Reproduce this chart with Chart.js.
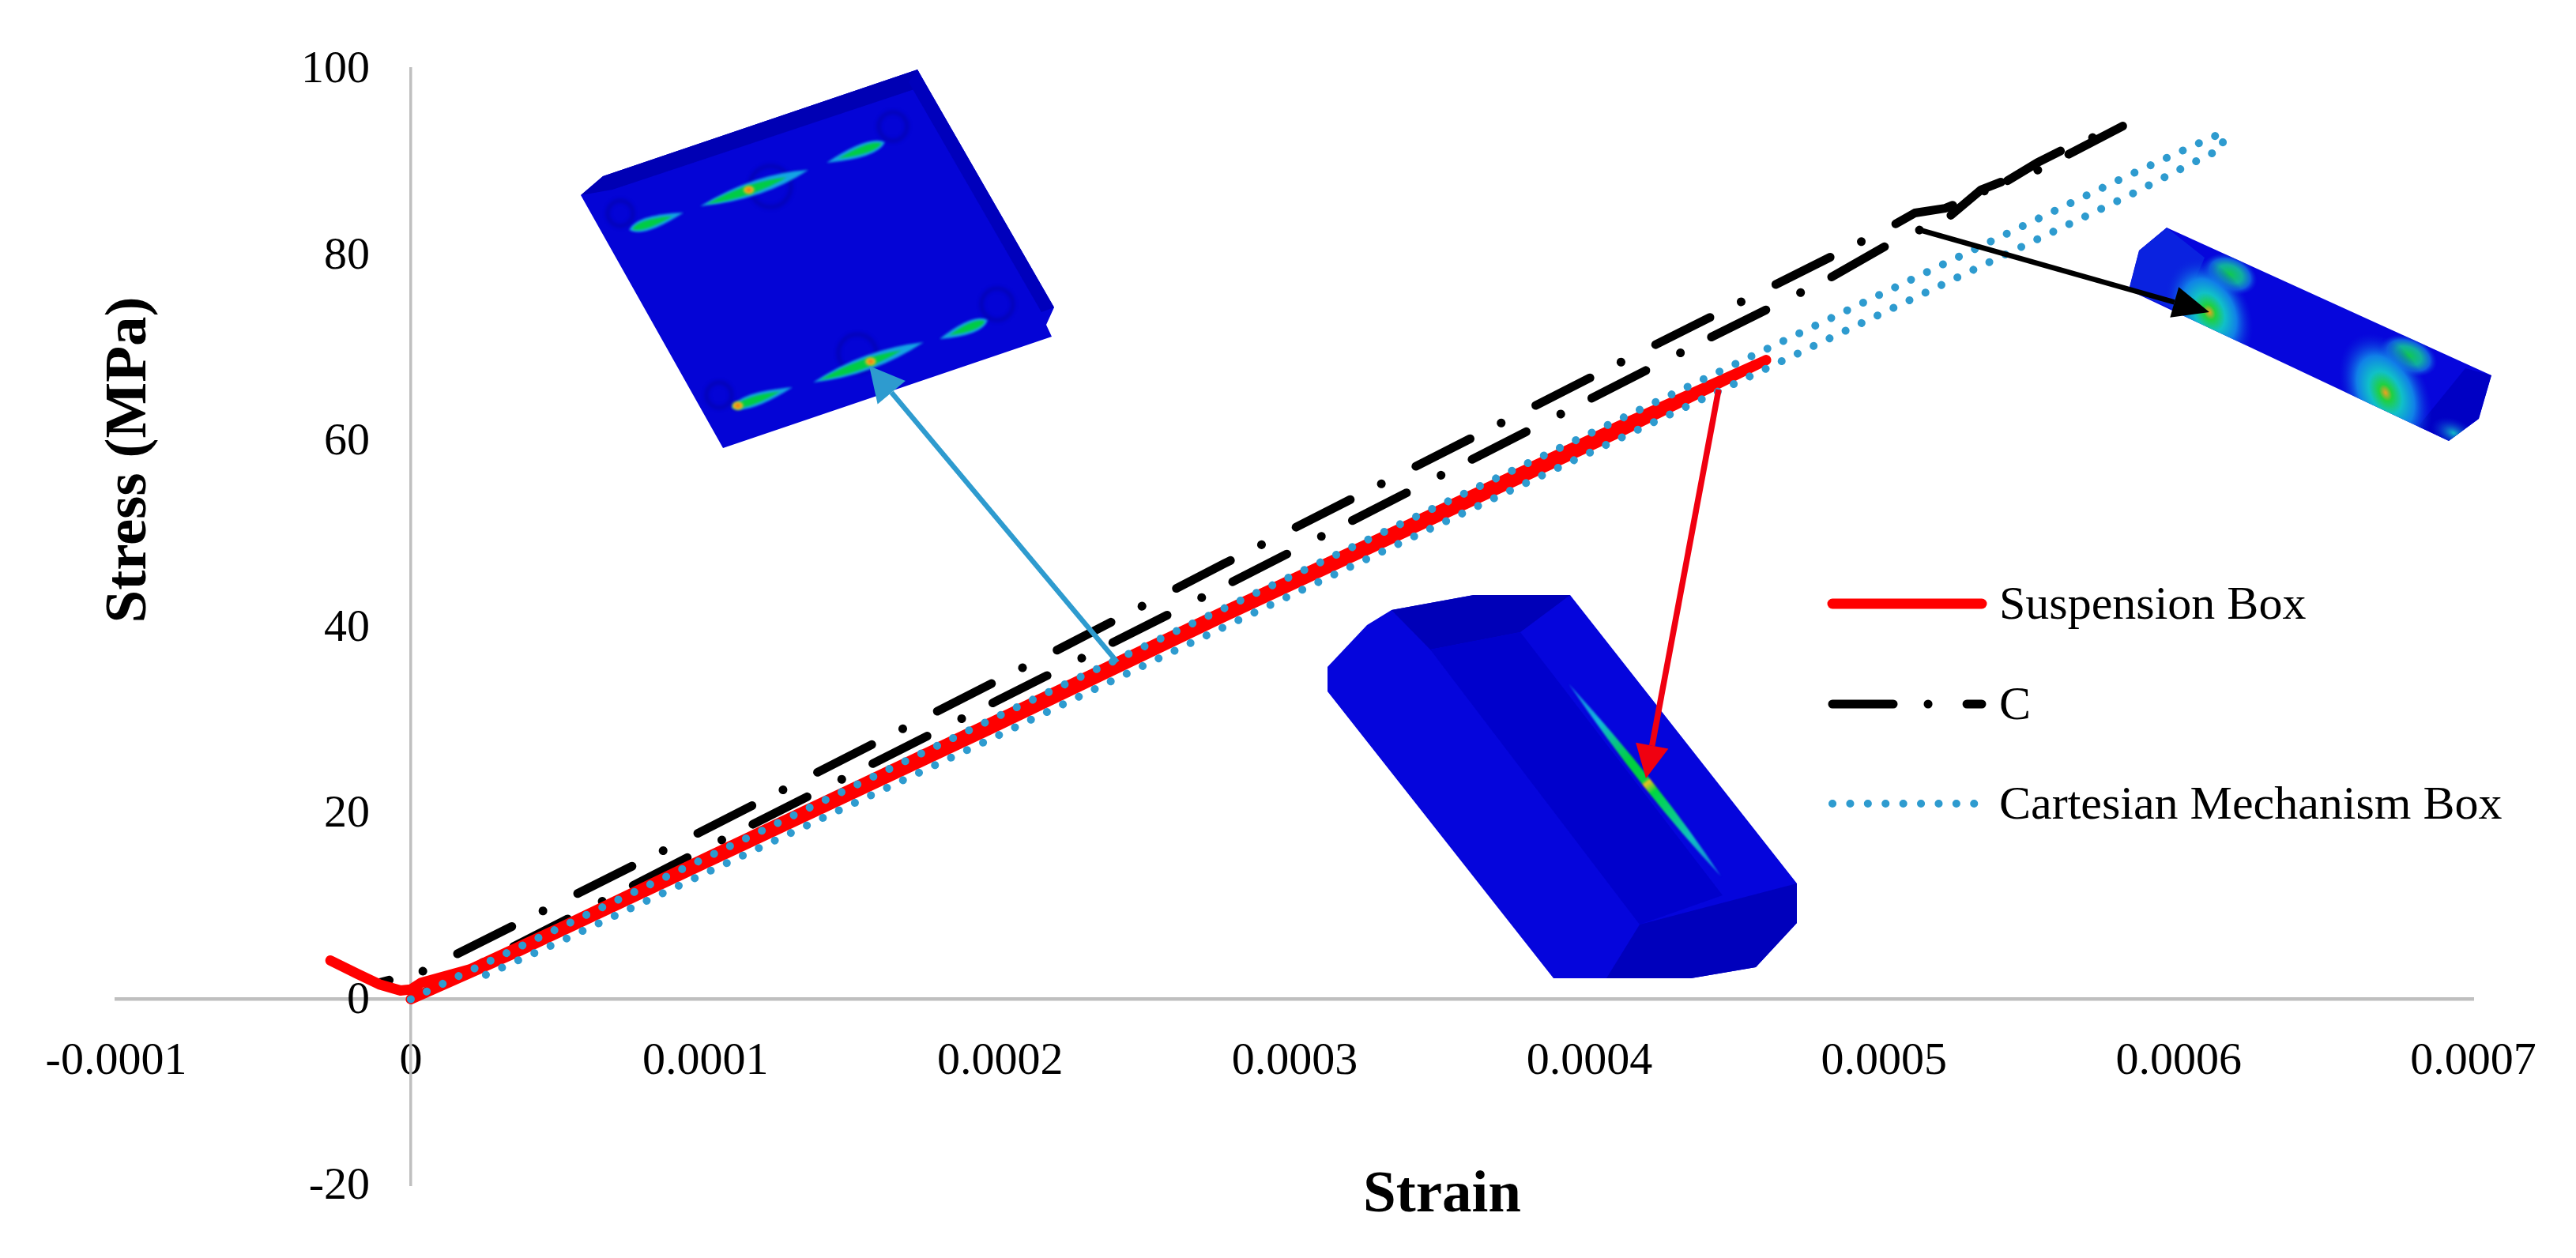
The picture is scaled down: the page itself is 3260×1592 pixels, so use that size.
<!DOCTYPE html>
<html>
<head>
<meta charset="utf-8">
<title>Stress vs Strain</title>
<script src="https://cdn.jsdelivr.net/npm/chart.js@4"></script>
<style>
  html, body { margin: 0; padding: 0; background: #fff; }
  canvas { display: block; }
</style>
</head>
<body>
<canvas id="stressChart" width="3260" height="1592"></canvas>
<script>
const xTickLabels = ['-0.0001', '0', '0.0001', '0.0002', '0.0003', '0.0004', '0.0005', '0.0006', '0.0007'];
const yTickLabels = ['-20', '0', '20', '40', '60', '80', '100'];

const suspensionStrain = [0, 3.57e-5, 10e-5, 19.6e-5, 27.6e-5, 41e-5, 46e-5, 41e-5, 27.6e-5, 19.6e-5, 10e-5, 5e-5, 2e-5, 0.35e-5, 0, -0.35e-5, -1.07e-5, -1.8e-5, -2.73e-5];
const suspensionStress = [0, 5.0, 14.6, 28.9, 41.1, 60.9, 68.7, 61.6, 41.7, 29.6, 15.2, 7.6, 3.2, 1.76, 1.05, 0.93, 1.6, 2.7, 4.16];

const cStrain = [-1.07e-5, -0.48e-5, 0.5e-5, 1.53e-5, 9.66e-5, 21.8e-5, 27.6e-5, 41.9e-5, 46e-5, 50.1e-5, 51.05e-5, 52.07e-5, 53.1e-5, 54.2e-5, 54.05e-5, 55.2e-5, 56.2e-5, 58.2e-5, 56.2e-5, 55.15e-5, 54.2e-5, 53.3e-5, 52.25e-5, 50.2e-5, 48.15e-5, 46.2e-5, 44.1e-5, 26e-5, 19.85e-5, 9.8e-5, 7.78e-5, 0];
const cStress = [1.78, 2.25, 3.1, 4.8, 17.7, 37.3, 46.8, 69.8, 76.3, 82.8, 84.5, 85.0, 86.3, 88.3, 87.7, 89.9, 91.5, 94.0, 90.7, 89.0, 88.1, 87.0, 84.2, 81.2, 77.5, 74.4, 71.1, 41.8, 32.0, 15.9, 12.6, 0];

const cartesianStrain = [0, 1.6e-5, 10.34e-5, 20.12e-5, 27.2e-5, 45.7e-5, 58.2e-5, 61.1e-5, 61.5e-5, 61.5e-5, 60.3e-5, 58.2e-5, 45.95e-5, 27.4e-5, 19.77e-5, 5e-5, 2.25e-5];
const cartesianStress = [0, 2.46, 15.7, 30.7, 41.4, 69.4, 88.4, 92.6, 93.1, 91.5, 89.6, 86.2, 67.7, 39.7, 28.1, 6.1, 2.2];

const serif = '"Liberation Serif", "Times New Roman", serif';

function toPoints(strain, stress) {
    return strain.map((x, i) => ({ x: x, y: stress[i] }));
}

function tracePoly(ctx, pts) {
    ctx.beginPath();
    pts.forEach((p, i) => i ? ctx.lineTo(p[0], p[1]) : ctx.moveTo(p[0], p[1]));
    ctx.closePath();
}

function poly(ctx, pts, fill) {
    tracePoly(ctx, pts);
    ctx.fillStyle = fill;
    ctx.fill();
}

// lens shaped contour streak on the box insets, fattest at peak (0..1 along it)
function streak(ctx, a, b, halfWidth, peak, fill) {
    const dx = b[0] - a[0], dy = b[1] - a[1];
    const len = Math.hypot(dx, dy);
    const nx = -dy / len * halfWidth * 2, ny = dx / len * halfWidth * 2;
    const mx = a[0] + dx * peak, my = a[1] + dy * peak;
    ctx.beginPath();
    ctx.moveTo(a[0], a[1]);
    ctx.quadraticCurveTo(mx + nx, my + ny, b[0], b[1]);
    ctx.quadraticCurveTo(mx - nx, my - ny, a[0], a[1]);
    ctx.fillStyle = fill;
    ctx.fill();
}

// one slot: blue-cyan rim, green core, optional hot point
function slot(ctx, a, b, halfWidth, peak, hot) {
    const at = t => [a[0] + (b[0] - a[0]) * t, a[1] + (b[1] - a[1]) * t];
    streak(ctx, a, b, halfWidth, peak, '#14A4E4');
    streak(ctx, at(0.06), at(0.8), halfWidth * 0.6, peak, '#00CC44');
    if (hot) {
        const c = at(hot);
        hotSpot(ctx, c[0], c[1], 9, 7, 0, [[0, '#F06A10'], [0.6, '#E8C020'], [1, 'rgba(0,204,68,0)']]);
    }
}

function hotSpot(ctx, x, y, rx, ry, angle, stops) {
    ctx.save();
    ctx.translate(x, y);
    ctx.rotate(angle);
    ctx.scale(rx, ry);
    const grad = ctx.createRadialGradient(0, 0, 0, 0, 0, 1);
    stops.forEach(s => grad.addColorStop(s[0], s[1]));
    ctx.fillStyle = grad;
    ctx.beginPath();
    ctx.arc(0, 0, 1, 0, Math.PI * 2);
    ctx.fill();
    ctx.restore();
}

function boltRing(ctx, x, y, r) {
    ctx.strokeStyle = 'rgba(0,0,120,0.3)';
    ctx.lineWidth = 5;
    ctx.beginPath();
    ctx.arc(x, y, r, 0, Math.PI * 2);
    ctx.stroke();
}

function arrow(ctx, from, tip, color, width, headLen, headWidth) {
    const ang = Math.atan2(tip[1] - from[1], tip[0] - from[0]);
    const cos = Math.cos(ang), sin = Math.sin(ang);
    const bx = tip[0] - cos * headLen, by = tip[1] - sin * headLen;
    ctx.strokeStyle = color;
    ctx.lineWidth = width;
    ctx.lineCap = 'butt';
    ctx.setLineDash([]);
    ctx.beginPath();
    ctx.moveTo(from[0], from[1]);
    ctx.lineTo(bx, by);
    ctx.stroke();
    poly(ctx, [tip, [bx - sin * headWidth / 2, by + cos * headWidth / 2], [bx + sin * headWidth / 2, by - cos * headWidth / 2]], color);
}

const spotStops = [[0, '#F0A020'], [0.14, '#20D040'], [0.36, '#10C0C8'], [0.62, '#1080E8'], [1, 'rgba(10,40,220,0)']];
const greenStops = [[0, '#10C850'], [0.45, '#10B0A0'], [0.75, '#1060E0'], [1, 'rgba(10,40,220,0)']];

const insetsPlugin = {
    id: 'insets',
    afterDatasetsDraw(chart) {
        const ctx = chart.ctx;
        ctx.save();

        // plate inset, upper left
        poly(ctx, [[735, 247], [763, 223], [1161, 88], [1334, 389], [1324, 411], [1331, 426], [915, 567]], '#0404D6');
        poly(ctx, [[763, 223], [1161, 88], [1172, 108], [775, 240], [735, 247]], '#0000B4');
        poly(ctx, [[1161, 88], [1334, 389], [1318, 395], [1150, 104]], '#0000BC');
        ctx.filter = 'blur(2px)';
        boltRing(ctx, 785, 270, 16);
        boltRing(ctx, 975, 236, 26);
        boltRing(ctx, 1130, 160, 18);
        boltRing(ctx, 1085, 447, 24);
        boltRing(ctx, 1262, 385, 20);
        boltRing(ctx, 910, 500, 16);
        ctx.filter = 'blur(1.5px)';
        slot(ctx, [796, 291], [865, 269], 8, 0.2);
        slot(ctx, [886, 261], [1023, 215], 9, 0.55, 0.45);
        slot(ctx, [1120, 180], [1046, 206], 8, 0.2);
        slot(ctx, [926, 516], [1003, 490], 8, 0.2, 0.1);
        slot(ctx, [1029, 484], [1169, 433], 9, 0.5, 0.52);
        slot(ctx, [1250, 405], [1189, 429], 8, 0.2);
        ctx.filter = 'none';

        // beam inset, upper right
        const beam = [[2742, 288], [3153, 475], [3137, 530], [3099, 558], [2694, 367], [2707, 317]];
        poly(ctx, beam, '#0606DC');
        ctx.save();
        tracePoly(ctx, beam);
        ctx.clip();
        poly(ctx, [[2742, 288], [2707, 317], [2694, 367], [2760, 396], [2790, 326]], '#0A22E0');
        poly(ctx, [[3153, 475], [3137, 530], [3099, 558], [3060, 540], [3120, 466]], '#0000C4');
        hotSpot(ctx, 2822, 347, 36, 24, 0.4, greenStops);
        hotSpot(ctx, 2796, 395, 72, 50, 1.1, spotStops);
        hotSpot(ctx, 3048, 450, 38, 24, 0.4, greenStops);
        hotSpot(ctx, 3019, 497, 80, 52, 1.1, spotStops);
        hotSpot(ctx, 3105, 548, 30, 18, 0.4, [[0, '#12B8C8'], [1, 'rgba(10,40,220,0)']]);
        ctx.restore();

        // bar inset, centre
        poly(ctx, [[1680, 844], [1680, 875], [1966, 1238], [2140, 1238], [2222, 1224], [2274, 1168], [2274, 1118], [1987, 753], [1865, 753], [1761, 772], [1730, 791]], '#0505DC');
        poly(ctx, [[1761, 772], [1865, 753], [1987, 753], [1924, 800], [1810, 822]], '#0000B8');
        poly(ctx, [[1810, 822], [1924, 800], [2180, 1133], [2075, 1170]], '#0000CC');
        poly(ctx, [[2075, 1170], [2274, 1118], [2274, 1168], [2222, 1224], [2140, 1238], [2033, 1238]], '#0000BC');
        ctx.filter = 'blur(1px)';
        const slit = ctx.createLinearGradient(1985, 865, 2178, 1109);
        [[0, '#1670E6'], [0.2, '#12B8DC'], [0.4, '#00D040'], [0.5, '#00D040'], [0.515, '#F0C020'], [0.56, '#00D840'], [0.8, '#10C0C0'], [1, '#1670E6']].forEach(s => slit.addColorStop(s[0], s[1]));
        streak(ctx, [1985, 865], [2178, 1109], 6, 0.55, slit);
        ctx.filter = 'none';

        // callout arrows
        arrow(ctx, [1414, 838], [1100, 463], '#2E9BCF', 6.5, 44, 46);
        arrow(ctx, [2175, 493], [2083, 985], '#F00010', 7.5, 42, 42);
        arrow(ctx, [2426, 290], [2796, 395], '#000000', 6.5, 46, 40);

        ctx.restore();
    }
};

const labelsPlugin = {
    id: 'labels',
    afterDraw(chart) {
        const ctx = chart.ctx;
        ctx.save();
        ctx.fillStyle = '#000';
        ctx.textBaseline = 'middle';

        // y tick labels sit well off the axis here, tick padding is ignored for a value-positioned axis
        ctx.font = '58px ' + serif;
        ctx.textAlign = 'right';
        yTickLabels.forEach(label => {
            ctx.fillText(label, 468, chart.scales.y.getPixelForValue(Number(label)) + 2);
        });

        // axis titles
        ctx.font = 'bold 75px ' + serif;
        ctx.textAlign = 'center';
        ctx.fillText('Strain', 1825, 1514);
        ctx.save();
        ctx.translate(165, 582);
        ctx.rotate(-Math.PI / 2);
        ctx.fillText('Stress (MPa)', 0, 0);
        ctx.restore();

        // legend, styled from the datasets
        const rows = [764, 891, 1017];
        ctx.textAlign = 'left';
        ctx.font = '60px ' + serif;
        chart.data.datasets.forEach((ds, i) => {
            ctx.strokeStyle = ds.borderColor;
            ctx.lineWidth = ds.borderWidth;
            ctx.lineCap = 'round';
            ctx.setLineDash(ds.borderDash || []);
            ctx.beginPath();
            ctx.moveTo(2319, rows[i]);
            ctx.lineTo(2508, rows[i]);
            ctx.stroke();
            ctx.setLineDash([]);
            ctx.fillStyle = '#000';
            ctx.fillText(ds.label, 2530, rows[i] + 3);
        });
        ctx.restore();
    }
};

function renderChart() {
    const ctx = document.getElementById('stressChart').getContext('2d');
    new Chart(ctx, {
        type: 'line',
        data: {
            datasets: [{
                label: 'Suspension Box',
                data: toPoints(suspensionStrain, suspensionStress),
                borderColor: '#FF0000',
                borderWidth: 13,
                order: 2
            }, {
                label: 'C',
                data: toPoints(cStrain, cStress),
                borderColor: '#000000',
                borderWidth: 11,
                borderDash: [77, 44, 0.1, 49],
                borderDashOffset: 64,
                order: 3
            }, {
                label: 'Cartesian Mechanism Box',
                data: toPoints(cartesianStrain, cartesianStress),
                borderColor: '#2E9BCF',
                borderWidth: 10,
                borderDash: [0.1, 22.3],
                order: 1
            }]
        },
        options: {
            responsive: false,
            animation: false,
            devicePixelRatio: 1,
            layout: { padding: { left: 147, right: 130, top: 87, bottom: 92 } },
            elements: {
                point: { radius: 0 },
                line: { tension: 0, borderCapStyle: 'round', borderJoinStyle: 'round' }
            },
            plugins: {
                legend: { display: false },
                tooltip: { enabled: false }
            },
            scales: {
                x: {
                    type: 'linear',
                    position: { y: 0 },
                    min: -0.0001,
                    max: 0.0007,
                    grid: { display: false, drawTicks: false },
                    border: { color: '#BFBFBF', width: 4.5 },
                    ticks: {
                        stepSize: 0.0001,
                        autoSkip: false,
                        maxRotation: 0,
                        padding: 44,
                        color: '#000',
                        font: { family: serif, size: 58 },
                        callback: (value, index) => xTickLabels[index]
                    }
                },
                y: {
                    type: 'linear',
                    position: { x: 0 },
                    min: -20,
                    max: 100,
                    grid: { display: false, drawTicks: false },
                    border: { color: '#BFBFBF', width: 3.5 },
                    ticks: { display: false, stepSize: 20 }
                }
            }
        },
        plugins: [insetsPlugin, labelsPlugin]
    });
}

document.addEventListener('DOMContentLoaded', renderChart);
</script>
</body>
</html>
